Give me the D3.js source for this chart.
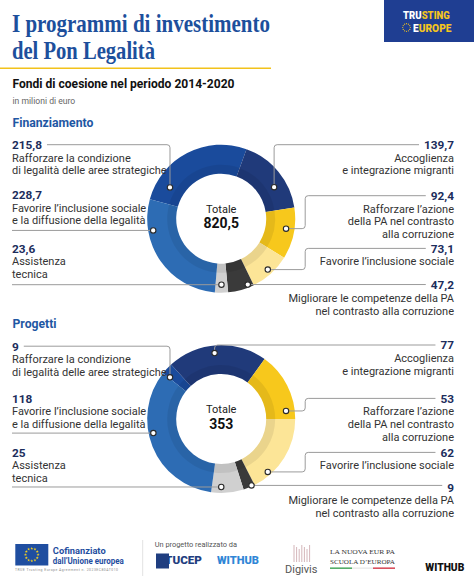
<!DOCTYPE html>
<html>
<head>
<meta charset="utf-8">
<script src="https://cdn.jsdelivr.net/npm/d3@7"></script>
<style>
  body { margin: 0; background: #fff; }
  svg { display: block; font-family: Roboto, "Noto Sans", sans-serif; }
</style>
</head>
<body>
<svg id="chart" width="474" height="585"></svg>
<script>
// categories in the order they go round the ring (clockwise)
var categories = [
  "Rafforzare la condizione di legalità delle aree strategiche",
  "Accoglienza e integrazione migranti",
  "Rafforzare l’azione della PA nel contrasto alla corruzione",
  "Favorire l’inclusione sociale",
  "Migliorare le competenze della PA nel contrasto alla corruzione",
  "Assistenza tecnica",
  "Favorire l’inclusione sociale e la diffusione della legalità"
];
var labelLines = [
  ["Rafforzare la condizione", "di legalità delle aree strategiche"],
  ["Accoglienza", "e integrazione migranti"],
  ["Rafforzare l’azione", "della PA nel contrasto", "alla corruzione"],
  ["Favorire l’inclusione sociale"],
  ["Migliorare le competenze della PA", "nel contrasto alla corruzione"],
  ["Assistenza", "tecnica"],
  ["Favorire l’inclusione sociale", "e la diffusione della legalità"]
];
// milioni di euro
var finanziamento = [215.8, 139.7, 92.4, 73.1, 47.2, 23.6, 228.7];
// numero di progetti
var progetti = [9, 77, 53, 62, 9, 25, 118];

var palette = ["#1a4b9c", "#203a7a", "#f7c81c", "#fce597", "#3a3a3a", "#d0d0d0", "#2d6cb4"];

var svg = d3.select("#chart");
var color = d3.scaleOrdinal(categories, palette);
var it = d3.formatLocale({decimal: ",", thousands: ".", grouping: [3], currency: ["€", ""]});
var fmt1 = it.format(".1f");
var fmt0 = it.format("d");

// ---- header ----
var title = svg.append("g")
  .attr("fill", "#1d4f9c")
  .style("font-family", "'Liberation Serif', 'DejaVu Serif', serif")
  .style("font-weight", "bold")
  .style("font-size", "26px");
title.append("text").attr("x", 12).attr("y", 31.5)
  .attr("textLength", 258).attr("lengthAdjust", "spacingAndGlyphs")
  .text("I programmi di investimento");
title.append("text").attr("x", 12).attr("y", 58.5)
  .attr("textLength", 143).attr("lengthAdjust", "spacingAndGlyphs")
  .text("del Pon Legalità");

svg.append("rect").attr("x", 0).attr("y", 67.5).attr("width", 271).attr("height", 1.5)
  .attr("fill", "#f2c21b");

svg.append("text").attr("x", 12.5).attr("y", 87.5)
  .style("font-size", "12.3px").style("font-weight", "bold").attr("fill", "#111")
  .attr("textLength", 222).attr("lengthAdjust", "spacingAndGlyphs")
  .text("Fondi di coesione nel periodo 2014-2020");

svg.append("text").attr("x", 12.5).attr("y", 104)
  .style("font-size", "8.6px").attr("fill", "#666")
  .text("in milioni di euro");

// logo top right
var logo = svg.append("g").style("font-size", "10.4px").style("font-weight", "900");
logo.append("rect").attr("x", 384).attr("y", 0).attr("width", 90).attr("height", 42)
  .attr("fill", "#1f3e92");
var l1 = logo.append("text").attr("transform", "translate(403,19) scale(0.92,1)");
l1.append("tspan").attr("fill", "#fff").text("TRU");
l1.append("tspan").attr("fill", "#f4c51d").text("STING");
var l2 = logo.append("text").attr("transform", "translate(413,32) scale(0.98,1)");
l2.append("tspan").attr("fill", "#fff").text("E");
l2.append("tspan").attr("fill", "#f4c51d").text("UROPE");
logo.selectAll("circle.star").data(d3.range(12)).enter().append("circle")
  .attr("cx", function(d) { return 406.5 + 3.8 * Math.sin(d * Math.PI / 6); })
  .attr("cy", function(d) { return 27.5 - 3.8 * Math.cos(d * Math.PI / 6); })
  .attr("r", 0.6).attr("fill", "#f4c51d");

// ---- donuts ----
var leader = [
  {side: "left", type: "v"},
  {side: "right", type: "v"},
  {side: "right", type: "elbow"},
  {side: "right", type: "elbow"},
  {side: "right", type: "h"},
  {side: "left", type: "h"},
  {side: "left", type: "h"}
];

var charts = [
  {heading: "Finanziamento", headingY: 126.5, values: finanziamento, fmt: fmt1,
   cx: 221.2, cy: 218.7, start: -74.7,
   labelY: [149, 149, 200, 252.7, 289.3, 252.7, 199],
   dotT: [0.17, 0.64, 0.43, 0.49, 0.2, 0.5, 0.75],
   dotR: [60, 61.6, 65.6, 69, 71, 66, 69]},
  {heading: "Progetti", headingY: 328.3, values: progetti, fmt: fmt0,
   cx: 221.2, cy: 419, start: -51.8,
   labelY: [350.5, 349.3, 402.7, 456.7, 491.5, 456.7, 402.7],
   dotT: [0.1, 0.47, 0.87, 0.77, 0.25, 0.69, 0.585],
   dotR: [66, 66.3, 65.3, 70.5, 73, 68, 69.3]}
];

var outerR = 74, innerR = 45;
var arc = d3.arc().innerRadius(innerR).outerRadius(outerR);
var shade = d3.arc().innerRadius(innerR).outerRadius(innerR + 9);
var leftX = 12, rightX = 454, elbowDx = 84, corner = 3;

charts.forEach(function(c) {
  svg.append("text").attr("x", 12.5).attr("y", c.headingY)
    .style("font-size", "12.2px").style("font-weight", "bold").attr("fill", "#1f57a3")
    .text(c.heading);

  var rows = categories.map(function(k, i) { return {key: k, value: c.values[i], i: i}; });
  var pie = d3.pie().sort(null).value(function(d) { return d.value; })
    .startAngle(c.start * Math.PI / 180)
    .endAngle((c.start + 360) * Math.PI / 180);
  var arcs = pie(rows);

  var g = svg.append("g").attr("transform", "translate(" + c.cx + "," + c.cy + ")");
  g.selectAll("path.slice").data(arcs).enter().append("path")
    .attr("class", "slice")
    .attr("d", arc)
    .attr("fill", function(d) { return color(d.data.key); });
  g.selectAll("path.shade").data(arcs).enter().append("path")
    .attr("class", "shade")
    .attr("d", shade)
    .attr("fill", "#000").attr("opacity", 0.07);

  g.append("text").attr("text-anchor", "middle").attr("y", -6)
    .style("font-size", "11px").attr("fill", "#222").text("Totale");
  g.append("text").attr("text-anchor", "middle").attr("y", 9.5)
    .style("font-size", "14px").style("font-weight", "bold").attr("fill", "#111")
    .text(c.fmt(d3.sum(c.values)));

  // labels and leader lines
  arcs.forEach(function(a) {
    var i = a.data.i, L = leader[i];
    var ang = a.startAngle + c.dotT[i] * (a.endAngle - a.startAngle);
    var dot = [c.cx + c.dotR[i] * Math.sin(ang), c.cy - c.dotR[i] * Math.cos(ang)];
    var left = L.side === "left";
    var x = left ? leftX : rightX;
    var y0 = c.labelY[i];

    var lab = svg.append("g").attr("text-anchor", left ? "start" : "end");
    var val = lab.append("text").attr("x", x).attr("y", y0)
      .style("font-size", "11.8px").style("font-weight", "bold").attr("fill", "#1c2d5c")
      .text(c.fmt(a.data.value));
    labelLines[i].forEach(function(line, j) {
      lab.append("text").attr("x", x).attr("y", y0 + 12.7 * (j + 1))
        .style("font-size", "11px").attr("fill", "#333")
        .text(line);
    });
    var w = val.node().getComputedTextLength();
    var lineY = y0 - 4.3;
    var p = d3.path();
    if (L.type === "h") {
      if (left) { p.moveTo(leftX, dot[1]); p.lineTo(dot[0], dot[1]); }
      else { p.moveTo(dot[0], dot[1]); p.lineTo(rightX - w - 5, dot[1]); }
    } else if (L.type === "v") {
      if (left) {
        p.moveTo(leftX + w + 5, lineY);
        p.arcTo(dot[0], lineY, dot[0], dot[1], corner);
        p.lineTo(dot[0], dot[1]);
      } else {
        p.moveTo(dot[0], dot[1]);
        p.arcTo(dot[0], lineY, rightX, lineY, corner);
        p.lineTo(rightX - w - 5, lineY);
      }
    } else {
      var ex = c.cx + elbowDx;
      p.moveTo(dot[0], dot[1]);
      p.arcTo(ex, dot[1], ex, lineY, corner);
      p.arcTo(ex, lineY, rightX, lineY, corner);
      p.lineTo(rightX - w - 5, lineY);
    }
    svg.append("path").attr("d", p.toString())
      .attr("fill", "none").attr("stroke", "#9b9b9b").attr("stroke-width", 1);
    svg.append("circle").attr("cx", dot[0]).attr("cy", dot[1]).attr("r", 2.7)
      .attr("fill", "#fff").attr("stroke", "#2a2a2a").attr("stroke-width", 1.1);
  });
});

// ---- footer ----
var f = svg.append("g");
f.append("rect").attr("x", 15.3).attr("y", 544).attr("width", 33).attr("height", 21.5).attr("fill", "#1f4ea0");
f.selectAll("path.eustar").data(d3.range(12)).enter().append("path")
  .attr("d", d3.symbol(d3.symbolStar, 3))
  .attr("transform", function(d) {
    return "translate(" + (31.8 + 6.3 * Math.sin(d * Math.PI / 6)) + "," + (554.7 - 6.3 * Math.cos(d * Math.PI / 6)) + ")";
  })
  .attr("fill", "#f5d020");
f.append("text").attr("x", 52.8).attr("y", 554).style("font-size", "9.3px").style("font-weight", "bold")
  .attr("fill", "#1f4ea0").text("Cofinanziato");
f.append("text").attr("x", 52.8).attr("y", 563.5).style("font-size", "9.3px").style("font-weight", "bold")
  .attr("fill", "#1f4ea0").attr("textLength", 71).attr("lengthAdjust", "spacingAndGlyphs")
  .text("dall’Unione europea");
f.append("text").attr("x", 15).attr("y", 570.5).style("font-size", "3.4px").attr("fill", "#888")
  .attr("textLength", 103).text("TRUE Trusting Europe Agreement n. 2023EC80AT010");
f.append("line").attr("x1", 142.7).attr("x2", 142.7).attr("y1", 540).attr("y2", 576)
  .attr("stroke", "#e2e2e2").attr("stroke-width", 1);

f.append("text").attr("x", 154.7).attr("y", 547).style("font-size", "7.4px").attr("fill", "#555")
  .text("Un progetto realizzato da");
f.append("rect").attr("x", 156).attr("y", 553.5).attr("width", 13).attr("height", 15).attr("fill", "#1f3e80");
f.append("text").attr("x", 165).attr("y", 564).style("font-size", "10.5px").style("font-weight", "900")
  .attr("fill", "#1f3e80").attr("textLength", 37).attr("lengthAdjust", "spacingAndGlyphs").text("TUCEP");
f.append("text").attr("x", 217).attr("y", 564).style("font-size", "10.5px").style("font-weight", "900")
  .attr("fill", "#2f86d6").attr("textLength", 42).attr("lengthAdjust", "spacingAndGlyphs").text("WITHUB");

f.selectAll("line.dg").data(d3.range(7)).enter().append("line")
  .attr("x1", function(d) { return 294 + d * 2.6; })
  .attr("x2", function(d) { return 294 + d * 2.6; })
  .attr("y1", function(d) { return 545 + (d % 3) * 2; })
  .attr("y2", 562).attr("stroke", "#c9a3a8").attr("stroke-width", 0.8);
f.append("text").attr("x", 285).attr("y", 572.5).style("font-size", "11px").attr("fill", "#555")
  .text("Digivis");

var ne = f.append("g").attr("fill", "#333").style("font-family", "'Liberation Serif', serif").style("font-size", "6.5px");
ne.append("text").attr("x", 330).attr("y", 554).attr("textLength", 65).attr("lengthAdjust", "spacingAndGlyphs").text("LA NUOVA EUR  PA");
ne.append("text").attr("x", 330).attr("y", 564.3).attr("textLength", 65).attr("lengthAdjust", "spacingAndGlyphs").text("SCUOLA D’EUROPA");
f.append("rect").attr("x", 330).attr("y", 567.5).attr("width", 22).attr("height", 1.3).attr("fill", "#2c9a45");
f.append("rect").attr("x", 352).attr("y", 567.5).attr("width", 21).attr("height", 1.3).attr("fill", "#e8e8e8");
f.append("rect").attr("x", 373).attr("y", 567.5).attr("width", 22).attr("height", 1.3).attr("fill", "#d0283a");

f.append("text").attr("x", 425.3).attr("y", 570.7).style("font-size", "11px").style("font-weight", "900")
  .attr("fill", "#111").attr("textLength", 39).attr("lengthAdjust", "spacingAndGlyphs").text("WITHUB");
</script>
</body>
</html>
